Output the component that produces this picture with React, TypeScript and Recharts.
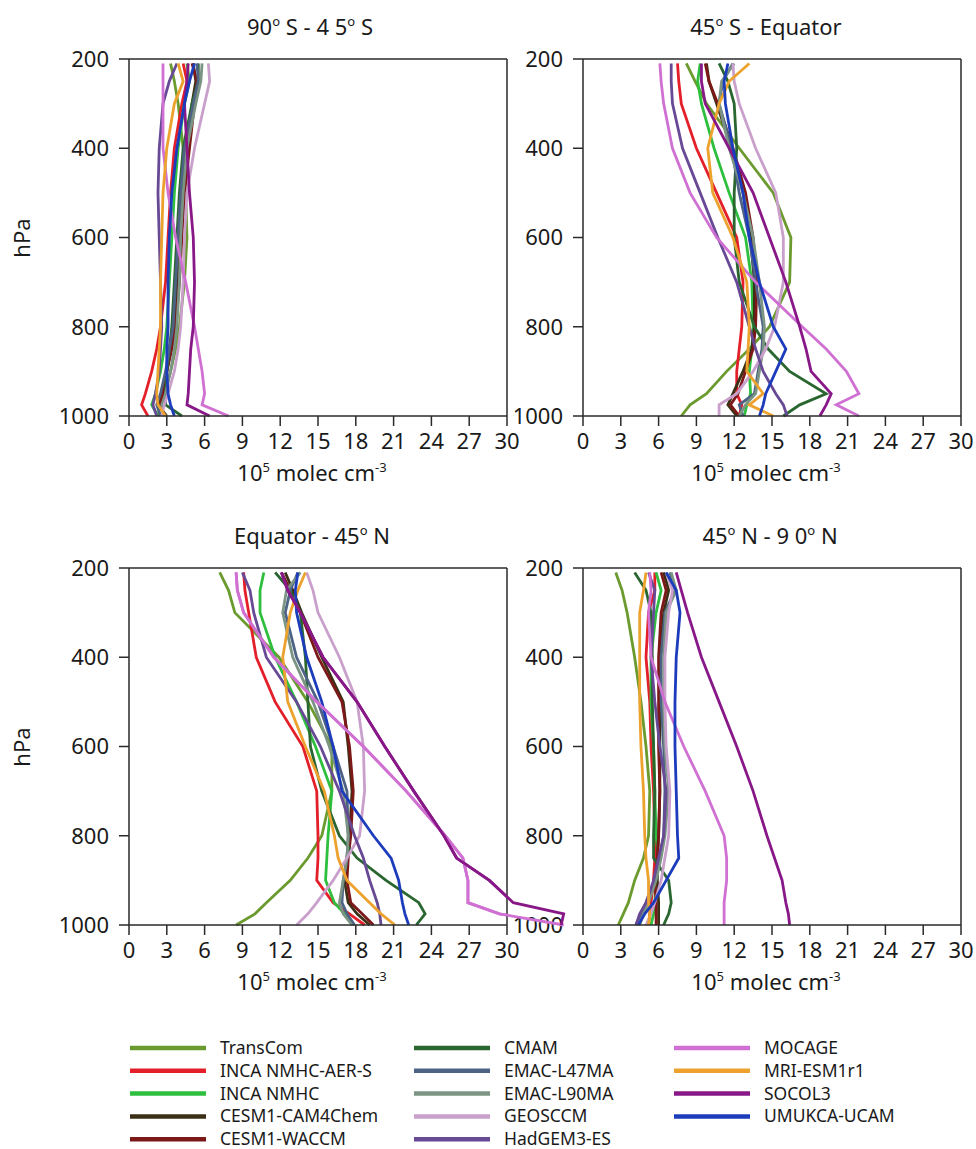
import { LineChart, Line, XAxis, YAxis } from "recharts";

const LEVELS = [210, 250, 300, 400, 500, 600, 700, 800, 850, 900, 950, 975, 1000];
const X_TICKS = [0, 3, 6, 9, 12, 15, 18, 21, 24, 27, 30];
const Y_TICKS = [200, 400, 600, 800, 1000];

const MODELS = [
  "TransCom",
  "INCA NMHC-AER-S",
  "INCA NMHC",
  "CESM1-CAM4Chem",
  "CESM1-WACCM",
  "CMAM",
  "EMAC-L47MA",
  "EMAC-L90MA",
  "GEOSCCM",
  "HadGEM3-ES",
  "MOCAGE",
  "MRI-ESM1r1",
  "SOCOL3",
  "UMUKCA-UCAM",
];

const COLORS: Record<string, string> = {
  TransCom: "#6b9a2e",
  "INCA NMHC-AER-S": "#e3202a",
  "INCA NMHC": "#2fbf3f",
  "CESM1-CAM4Chem": "#3b3016",
  "CESM1-WACCM": "#7c1818",
  CMAM: "#2a6630",
  "EMAC-L47MA": "#4d6284",
  "EMAC-L90MA": "#7b9484",
  GEOSCCM: "#c9a0cc",
  "HadGEM3-ES": "#674996",
  MOCAGE: "#cf70d2",
  "MRI-ESM1r1": "#eda22e",
  SOCOL3: "#881888",
  "UMUKCA-UCAM": "#1c3cbc",
};

// 90S - 45S, 10^5 molec cm-3 at each of LEVELS
const SH_HIGH: Record<string, number[]> = {
  TransCom: [3.3, 3.6, 3.9, 4.3, 4.5, 4.6, 4.4, 4.0, 3.7, 3.3, 2.8, 2.5, 2.3],
  "INCA NMHC-AER-S": [4.3, 4.6, 4.2, 3.6, 3.3, 3.1, 2.9, 2.5, 2.2, 1.8, 1.3, 1.0, 1.5],
  "INCA NMHC": [4.6, 4.8, 4.4, 3.9, 3.6, 3.4, 3.2, 3.0, 2.8, 2.5, 2.1, 1.8, 2.3],
  "CESM1-CAM4Chem": [5.1, 5.3, 5.0, 4.5, 4.2, 4.0, 3.8, 3.6, 3.3, 3.0, 2.6, 2.3, 3.0],
  "CESM1-WACCM": [5.0, 5.4, 5.2, 4.8, 4.4, 4.2, 4.0, 3.7, 3.4, 3.0, 2.7, 2.5, 2.8],
  CMAM: [5.5, 5.5, 5.0, 4.3, 4.0, 3.8, 3.6, 3.4, 3.2, 3.0, 2.9, 2.9, 4.2],
  "EMAC-L47MA": [5.4, 5.5, 5.1, 4.4, 4.1, 3.9, 3.7, 3.5, 3.2, 2.9, 2.5, 2.2, 2.5],
  "EMAC-L90MA": [5.8, 5.7, 5.3, 4.6, 4.3, 4.1, 4.0, 3.8, 3.6, 3.3, 2.9, 2.6, 2.7],
  GEOSCCM: [6.3, 6.4, 6.0, 5.2, 4.6, 4.4, 4.3, 4.1, 3.9, 3.6, 3.1, 2.8, 2.6],
  "HadGEM3-ES": [3.8, 3.2, 2.7, 2.4, 2.3, 2.4, 2.5, 2.6, 2.5, 2.4, 2.1, 1.9, 2.2],
  MOCAGE: [2.7, 2.7, 2.7, 2.7, 3.1, 3.7, 4.5, 5.2, 5.5, 5.8, 6.0, 5.8, 7.9],
  "MRI-ESM1r1": [3.9, 4.3, 3.6, 3.0, 2.7, 2.6, 2.5, 2.5, 2.4, 2.3, 2.2, 2.3, 2.9],
  SOCOL3: [4.7, 4.6, 4.4, 4.6, 4.8, 5.1, 5.2, 5.1, 4.9, 4.8, 4.7, 4.6, 6.4],
  "UMUKCA-UCAM": [5.2, 4.8, 4.4, 3.8, 3.4, 3.2, 3.1, 3.1, 3.0, 3.0, 3.1, 3.3, 3.6],
};

// 45S - Equator
const SH_TROP: Record<string, number[]> = {
  TransCom: [8.2, 8.9, 9.8, 12.4, 15.1, 16.5, 16.4, 14.8, 13.2, 11.4, 9.8, 8.5, 7.8],
  "INCA NMHC-AER-S": [7.5, 7.6, 7.8, 9.0, 10.6, 12.2, 12.7, 12.6, 12.4, 12.2, 12.2, 12.6, 12.4],
  "INCA NMHC": [9.3, 9.1, 9.4, 10.4, 11.6, 12.9, 13.4, 13.5, 13.4, 13.2, 13.3, 13.0, 12.8],
  "CESM1-CAM4Chem": [9.8, 10.0, 10.6, 11.8, 12.7, 13.3, 13.6, 13.6, 13.4, 12.7, 11.9, 11.5, 12.2],
  "CESM1-WACCM": [9.7, 10.0, 10.7, 11.9, 12.9, 13.5, 13.8, 13.7, 13.5, 12.9, 12.3, 11.7, 12.4],
  CMAM: [10.8, 11.5, 12.0, 12.2, 12.0, 12.0, 12.4, 13.6, 14.7, 16.4, 19.3, 17.2, 15.9],
  "EMAC-L47MA": [11.9, 11.1, 10.8, 11.8, 12.4, 13.2, 13.7, 14.3, 14.2, 13.9, 13.6, 12.4, 12.7],
  "EMAC-L90MA": [12.0, 11.0, 10.8, 11.6, 12.7, 13.5, 14.0, 14.4, 14.3, 14.0, 13.7, 12.9, 12.4],
  GEOSCCM: [11.9, 12.0, 12.4, 13.7, 15.3, 15.9, 15.9, 15.2, 14.5, 13.5, 12.2, 10.8, 10.8],
  "HadGEM3-ES": [7.0, 7.0, 7.1, 7.9, 9.3, 10.7, 12.2, 13.2, 13.7, 14.3, 15.3, 15.9, 16.2],
  MOCAGE: [6.1, 6.2, 6.4, 7.1, 8.5, 10.6, 13.7, 17.4, 19.3, 20.9, 21.9, 20.1, 21.9],
  "MRI-ESM1r1": [13.2, 11.6, 10.8, 9.9, 10.3, 11.9, 13.0, 13.2, 13.1, 13.0, 14.3, 13.2, 15.1],
  SOCOL3: [9.4, 9.4, 9.7, 11.6, 13.5, 14.8, 16.1, 17.2, 17.7, 18.1, 19.7, 19.3, 18.8],
  "UMUKCA-UCAM": [11.5, 11.2, 11.3, 11.9, 12.7, 13.2, 14.0, 15.1, 16.1, 15.3, 14.5, 14.3, 14.0],
};

// Equator - 45N
const NH_TROP: Record<string, number[]> = {
  TransCom: [7.2, 7.9, 8.4, 11.9, 14.2, 16.1, 16.1, 15.3, 14.2, 12.8, 10.9, 10.0, 8.5],
  "INCA NMHC-AER-S": [9.1, 9.2, 9.5, 10.1, 11.6, 13.8, 14.9, 15.0, 15.0, 14.9, 16.2, 17.5, 18.7],
  "INCA NMHC": [10.7, 10.4, 10.4, 11.6, 13.3, 14.8, 16.1, 15.8, 15.7, 15.6, 16.3, 17.1, 17.8],
  "CESM1-CAM4Chem": [12.4, 13.0, 13.7, 15.3, 17.0, 17.4, 17.7, 17.5, 17.3, 17.1, 17.4, 18.1, 19.1],
  "CESM1-WACCM": [12.1, 12.8, 13.6, 15.0, 16.9, 17.5, 17.8, 17.6, 17.4, 17.3, 17.6, 18.5, 19.4],
  CMAM: [11.6, 12.8, 13.6, 14.0, 14.2, 14.4, 15.3, 16.7, 18.1, 20.4, 23.0, 23.5, 22.8],
  "EMAC-L47MA": [13.4, 12.8, 12.4, 13.3, 15.0, 16.2, 17.3, 17.4, 17.3, 17.0, 16.9, 17.3, 17.9],
  "EMAC-L90MA": [13.6, 12.5, 12.2, 13.0, 14.6, 15.9, 17.0, 17.4, 17.3, 17.0, 16.7, 17.0, 17.7],
  GEOSCCM: [14.1, 14.6, 15.0, 16.7, 18.1, 18.6, 18.7, 18.3, 17.3, 16.2, 14.9, 14.2, 13.3],
  "HadGEM3-ES": [9.0, 9.6, 9.9, 10.9, 13.3, 15.2, 16.7, 17.9, 18.6, 19.1, 19.7, 19.9, 20.0],
  MOCAGE: [8.5, 8.6, 9.1, 11.5, 14.9, 18.6, 22.0, 25.1, 26.5, 26.9, 26.9, 29.4, 34.5],
  "MRI-ESM1r1": [14.0, 13.4, 12.8, 12.2, 12.6, 14.0, 15.5, 16.3, 16.6, 17.3, 19.1, 20.0, 21.1],
  SOCOL3: [12.1, 12.6, 13.6, 15.4, 18.1, 20.3, 22.6, 25.0, 26.0, 28.6, 30.5, 34.5, 34.3],
  "UMUKCA-UCAM": [13.4, 13.2, 13.3, 14.1, 15.3, 16.2, 16.9, 19.4, 20.8, 21.4, 21.7, 21.9, 22.2],
};

// 45N - 90N
const NH_HIGH: Record<string, number[]> = {
  TransCom: [2.6, 3.1, 3.5, 4.1, 4.6, 5.0, 5.3, 5.2, 4.8, 4.1, 3.6, 3.2, 2.8],
  "INCA NMHC-AER-S": [5.7, 5.7, 5.2, 5.0, 5.3, 5.4, 5.6, 5.7, 5.7, 5.6, 5.4, 5.3, 5.2],
  "INCA NMHC": [5.8, 6.2, 5.8, 5.4, 5.4, 5.6, 5.7, 5.8, 6.0, 5.8, 5.7, 5.6, 5.4],
  "CESM1-CAM4Chem": [6.4, 6.8, 6.4, 6.1, 6.1, 6.1, 6.1, 6.0, 5.9, 5.9, 6.0, 6.0, 6.0],
  "CESM1-WACCM": [6.2, 6.6, 6.2, 6.0, 6.0, 6.0, 6.1, 6.0, 5.9, 5.7, 5.8, 5.8, 5.8],
  CMAM: [4.1, 5.0, 5.4, 5.5, 5.5, 5.6, 5.7, 5.6, 5.6, 6.8, 7.0, 6.8, 6.4],
  "EMAC-L47MA": [6.9, 7.3, 6.5, 6.2, 6.2, 6.4, 6.5, 6.4, 6.1, 5.7, 5.0, 4.6, 4.2],
  "EMAC-L90MA": [7.0, 7.4, 6.6, 6.4, 6.4, 6.5, 6.8, 6.5, 6.2, 5.8, 5.2, 4.8, 4.5],
  GEOSCCM: [6.6, 7.1, 6.8, 6.5, 6.5, 6.6, 6.9, 6.8, 6.5, 6.2, 5.7, 5.4, 5.0],
  "HadGEM3-ES": [5.2, 5.7, 5.6, 5.4, 5.7, 6.1, 6.6, 6.4, 6.0, 5.6, 5.0, 4.5, 4.2],
  MOCAGE: [5.3, 5.4, 5.2, 5.4, 6.5, 8.0, 9.7, 11.2, 11.4, 11.4, 11.2, 11.2, 11.2],
  "MRI-ESM1r1": [5.0, 4.8, 4.5, 4.5, 4.5, 4.6, 4.8, 4.9, 5.0, 5.2, 5.2, 5.3, 5.2],
  SOCOL3: [7.4, 7.8, 8.3, 9.4, 10.8, 12.2, 13.5, 14.6, 15.2, 15.8, 16.1, 16.3, 16.4],
  "UMUKCA-UCAM": [6.6, 7.4, 7.7, 7.4, 7.3, 7.3, 7.4, 7.5, 7.6, 6.6, 5.6, 4.9, 4.4],
};

const FONT = "'Noto Sans', 'Open Sans', sans-serif";
const INK = "#1a1a1a";
const PW = 378;
const PH = 357;
const LW = 2.8;

function toRows(panel: Record<string, number[]>) {
  return LEVELS.map((p, i) => {
    const row: Record<string, number> = { p };
    MODELS.forEach((m, j) => {
      row["m" + j] = panel[m][i];
    });
    return row;
  });
}

function Panel({ panel, x, y }: { panel: Record<string, number[]>; x: number; y: number }) {
  const rows = toRows(panel);
  return (
    <div style={{ position: "absolute", left: x - 70, top: y - 20 }}>
      <LineChart
        layout="vertical"
        width={PW + 90}
        height={PH + 80}
        data={rows}
        margin={{ top: 10, right: 10, bottom: 10, left: 10 }}
      >
        <XAxis
          xAxisId="b"
          type="number"
          domain={[0, 30]}
          ticks={X_TICKS}
          interval={0}
          allowDataOverflow
          orientation="bottom"
          height={50}
          tickSize={10}
          tickMargin={7}
          stroke="#2a2a2a"
          strokeWidth={1.5}
          tick={{ fontSize: 22, fill: INK, fontFamily: FONT }}
        />
        <XAxis
          xAxisId="t"
          type="number"
          domain={[0, 30]}
          ticks={X_TICKS}
          interval={0}
          allowDataOverflow
          orientation="top"
          height={10}
          tickSize={10}
          tick={false}
          stroke="#2a2a2a"
          strokeWidth={1.5}
        />
        <YAxis
          yAxisId="l"
          type="number"
          dataKey="p"
          domain={[200, 1000]}
          ticks={Y_TICKS}
          interval={0}
          width={60}
          tickSize={10}
          tickMargin={10}
          stroke="#2a2a2a"
          strokeWidth={1.5}
          tick={{ fontSize: 22, fill: INK, fontFamily: FONT }}
        />
        <YAxis
          yAxisId="r"
          type="number"
          dataKey="p"
          domain={[200, 1000]}
          ticks={Y_TICKS}
          interval={0}
          orientation="right"
          width={10}
          tickSize={10}
          tick={false}
          stroke="#2a2a2a"
          strokeWidth={1.5}
        />
        {MODELS.map((m, j) => (
          <Line
            key={m}
            xAxisId="b"
            yAxisId="l"
            dataKey={"m" + j}
            stroke={COLORS[m]}
            strokeWidth={LW}
            dot={false}
            type="linear"
            isAnimationActive={false}
          />
        ))}
      </LineChart>
    </div>
  );
}

// lines that run past the right edge of the frame (no clipping)
function Overflow({ panel, x, y, names }: { panel: Record<string, number[]>; x: number; y: number; names: string[] }) {
  const rows = toRows(panel);
  const maxV = 40;
  const w = (PW / 30) * maxV;
  return (
    <div style={{ position: "absolute", left: x - 10, top: y - 10, pointerEvents: "none" }}>
      <LineChart layout="vertical" width={w + 20} height={PH + 20} data={rows} margin={{ top: 10, right: 10, bottom: 10, left: 10 }}>
        <XAxis type="number" domain={[0, maxV]} hide />
        <YAxis type="number" dataKey="p" domain={[200, 1000]} hide />
        {MODELS.map((m, j) =>
          names.includes(m) ? (
            <Line
              key={m}
              dataKey={"m" + j}
              stroke={COLORS[m]}
              strokeWidth={LW}
              dot={false}
              type="linear"
              isAnimationActive={false}
            />
          ) : null
        )}
      </LineChart>
    </div>
  );
}

function Sup({ t }: { t: string }) {
  return (
    <tspan dy={-9} fontSize={13}>
      {t}
    </tspan>
  );
}

function UnitLabel({ x, y }: { x: number; y: number }) {
  return (
    <text x={x} y={y} textAnchor="middle" fontSize={22} fill={INK} fontFamily={FONT}>
      10
      <tspan dy={-9} fontSize={13}>5</tspan>
      <tspan dy={9}> molec cm</tspan>
      <tspan dy={-9} fontSize={13}>-3</tspan>
    </text>
  );
}

export default function App() {
  const legendCols = [
    { names: MODELS.slice(0, 5), x: 130 },
    { names: MODELS.slice(5, 10), x: 414 },
    { names: MODELS.slice(10), x: 674 },
  ];
  return (
    <div style={{ position: "absolute", left: 0, top: 0, width: 976, height: 1149, background: "#fff", fontFamily: FONT }}>
      <svg width={976} height={1149} style={{ position: "absolute", left: 0, top: 0 }}>
        <text x={310} y={35} textAnchor="middle" fontSize={22} fill={INK} fontFamily={FONT}>
          90<Sup t="o" />
          <tspan dy={9}> S - 4 5</tspan>
          <Sup t="o" />
          <tspan dy={9}> S</tspan>
        </text>
        <text x={766} y={35} textAnchor="middle" fontSize={22} fill={INK} fontFamily={FONT}>
          45<Sup t="o" />
          <tspan dy={9}> S - Equator</tspan>
        </text>
        <text x={312} y={544} textAnchor="middle" fontSize={22} fill={INK} fontFamily={FONT}>
          Equator - 45<Sup t="o" />
          <tspan dy={9}> N</tspan>
        </text>
        <text x={770} y={544} textAnchor="middle" fontSize={22} fill={INK} fontFamily={FONT}>
          45<Sup t="o" />
          <tspan dy={9}> N - 9 0</tspan>
          <Sup t="o" />
          <tspan dy={9}> N</tspan>
        </text>
        <UnitLabel x={312} y={481} />
        <UnitLabel x={766} y={481} />
        <UnitLabel x={312} y={990} />
        <UnitLabel x={766} y={990} />
        <text transform="translate(30,238) rotate(-90)" textAnchor="middle" fontSize={22} fill={INK} fontFamily={FONT}>
          hPa
        </text>
        <text transform="translate(30,747) rotate(-90)" textAnchor="middle" fontSize={22} fill={INK} fontFamily={FONT}>
          hPa
        </text>
        {legendCols.map((c) =>
          c.names.map((m, i) => (
            <g key={m}>
              <line x1={c.x} x2={c.x + 76} y1={1048 + i * 22.8} y2={1048 + i * 22.8} stroke={COLORS[m]} strokeWidth={4.5} />
              <text x={c.x + 90} y={1048 + i * 22.8 + 6} fontSize={17.5} fill={INK} fontFamily={FONT}>
                {m}
              </text>
            </g>
          ))
        )}
      </svg>
      <Panel panel={SH_HIGH} x={129} y={59} />
      <Panel panel={SH_TROP} x={583} y={59} />
      <Panel panel={NH_TROP} x={129} y={568} />
      <Panel panel={NH_HIGH} x={583} y={568} />
      <Overflow panel={NH_TROP} x={129} y={568} names={["MOCAGE", "SOCOL3"]} />
    </div>
  );
}
